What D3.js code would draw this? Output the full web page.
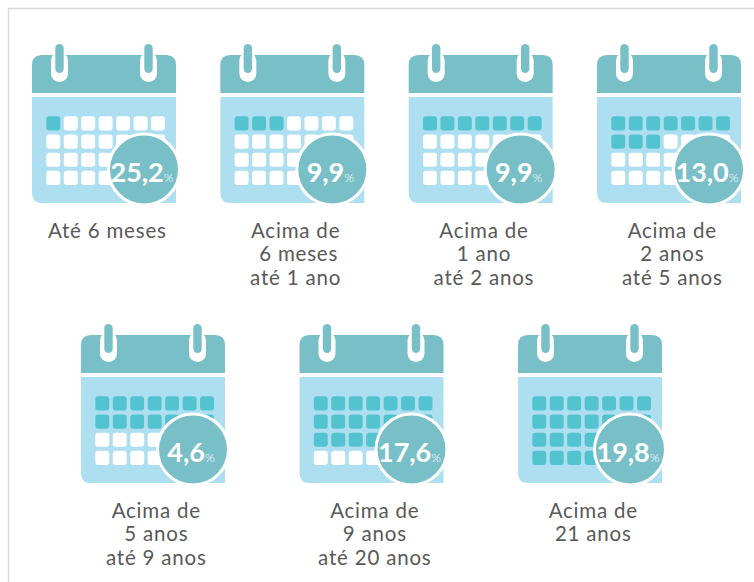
<!DOCTYPE html>
<html>
<head>
<meta charset="utf-8">
<script src="https://cdn.jsdelivr.net/npm/d3@7"></script>
<style>
html, body { margin: 0; padding: 0; background: #fff; }
svg { display: block; }
text { font-family: Lato, "Open Sans", sans-serif; white-space: pre; }
</style>
</head>
<body>
<svg id="vis"></svg>
<script>
// one entry per calendar
var percents = ["25,2", "9,9", "9,9", "13,0", "4,6", "17,6", "19,8"];
var filledCells = [1, 3, 7, 10, 14, 21, 28];
var labels = [
    ["Até 6 meses"],
    ["Acima de", " 6 meses", "até 1 ano"],
    ["Acima de", "1 ano", "até 2 anos"],
    ["Acima de", "2 anos", "até 5 anos"],
    ["Acima de", "5 anos", "até 9 anos"],
    ["Acima de", "9 anos", "até 20 anos"],
    ["Acima de", "21 anos"]
];
var rowOne = [0, 1, 2, 3];
var rowTwo = [4, 5, 6];

var width = 754, height = 582;
var calW = 144, calH = 148;

var svg = d3.select("#vis").attr("width", width).attr("height", height);

// frame, only top and left show
svg.append("path")
    .attr("d", "M8.5," + height + "V8.5H" + width)
    .attr("fill", "none")
    .attr("stroke", "#d9d9d9")
    .attr("stroke-width", 1.5);

// calendars placed with point scales, one per row
var x1 = d3.scalePoint().domain(rowOne).range([32, 597]);
var x2 = d3.scalePoint().domain(rowTwo).range([81, 518]);
var rowY = [55, 335];

var cellCol = d3.scaleBand().domain(d3.range(7)).range([14.3, 133]).paddingInner(0.2);
var cellRow = d3.scaleBand().domain(d3.range(4)).range([61.3, 130]).paddingInner(0.22);

function drawCalendar(g, i) {
    // header
    g.append("path")
        .attr("d", "M0,38V10Q0,0 10,0H134Q144,0 144,10V38Z")
        .attr("fill", "#79bfc7");
    // body
    g.append("path")
        .attr("d", "M0,42H144V148H10Q0,148 0,138Z")
        .attr("fill", "#aedff0");

    // binder rings
    [19, 108].forEach(function(rx) {
        g.append("rect").attr("x", rx).attr("y", -3).attr("width", 17).attr("height", 30)
            .attr("rx", 8.5).attr("fill", "#fff");
        g.append("rect").attr("x", rx + 4.3).attr("y", -11).attr("width", 8.4).attr("height", 29)
            .attr("rx", 4.2).attr("fill", "#79bfc7");
    });

    // day cells, filled ones first
    var cells = d3.range(28);
    g.selectAll(".cell")
        .data(cells)
        .enter().append("rect")
        .attr("class", "cell")
        .attr("x", function(d) { return cellCol(d % 7); })
        .attr("y", function(d) { return cellRow(Math.floor(d / 7)); })
        .attr("width", cellCol.bandwidth())
        .attr("height", cellRow.bandwidth())
        .attr("rx", 3)
        .attr("fill", function(d) { return d < filledCells[i] ? "#54c3d0" : "#fff"; });

    // percent badge
    g.append("circle")
        .attr("cx", 112).attr("cy", 114.5).attr("r", 35.5)
        .attr("fill", "#79bfc7")
        .attr("stroke", "#fff")
        .attr("stroke-width", 3);

    var t = g.append("text")
        .attr("x", 110).attr("y", 127)
        .attr("text-anchor", "middle")
        .attr("fill", "#fff");
    t.append("tspan")
        .attr("font-size", 27).attr("font-weight", 700)
        .text(percents[i]);
    t.append("tspan")
        .attr("font-size", 12.5)
        .attr("font-weight", 300)
        .text("%");

    // label under the calendar
    g.append("g").selectAll("text")
        .data(labels[i])
        .enter().append("text")
        .attr("x", calW / 2 + 3.3)
        .attr("y", function(d, j) { return 182.5 + j * 23.5; })
        .attr("text-anchor", "middle")
        .attr("font-size", 20.5)
        .attr("letter-spacing", 0.8)
        .attr("fill", "#595959")
        .text(function(d) { return d; });
}

rowOne.forEach(function(i) {
    var g = svg.append("g").attr("transform", "translate(" + x1(i) + "," + rowY[0] + ")");
    drawCalendar(g, i);
});
rowTwo.forEach(function(i) {
    var g = svg.append("g").attr("transform", "translate(" + x2(i) + "," + rowY[1] + ")");
    drawCalendar(g, i);
});
</script>
</body>
</html>
